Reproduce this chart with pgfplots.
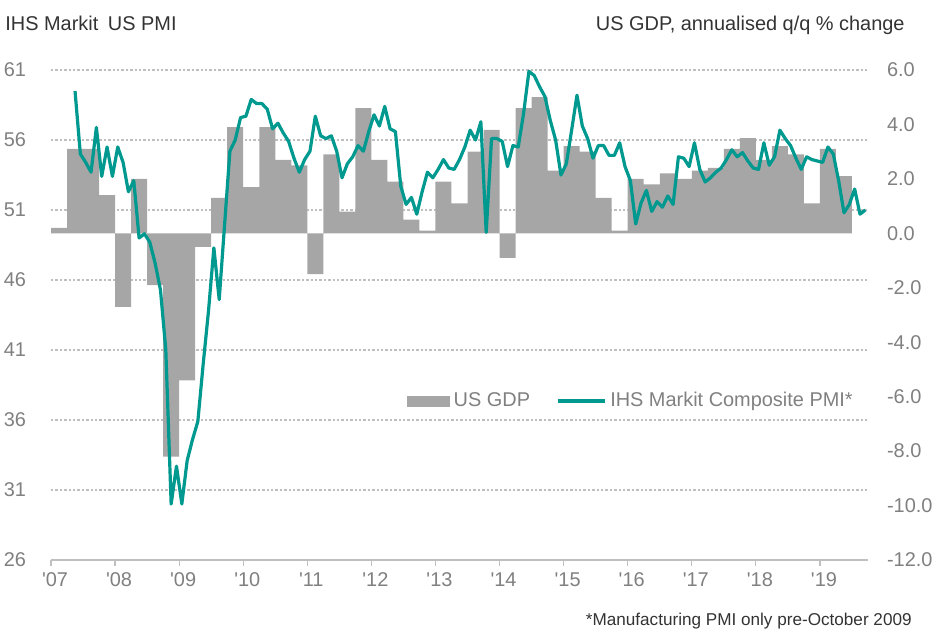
\documentclass[border=0pt]{standalone}
\usepackage{fontspec}
\setmainfont{Liberation Sans}
\usepackage{pgfplots}
\usepackage{pgfplotstable}
\pgfplotsset{compat=1.18}
\definecolor{teal1}{RGB}{0,153,143}
\definecolor{gdpgray}{RGB}{166,166,166}
\definecolor{gridgray}{RGB}{191,191,191}
\definecolor{labgray}{RGB}{128,128,128}
\definecolor{titlegray}{RGB}{51,51,51}

\pgfplotstableread{
x y
0 0.2
3 3.1
6 3.1
9 1.4
12 -2.7
15 2.0
18 -1.9
21 -8.2
24 -5.4
27 -0.5
30 1.3
33 3.9
36 1.7
39 3.9
42 2.7
45 2.5
48 -1.5
51 2.9
54 0.8
57 4.6
60 2.7
63 1.9
66 0.5
69 0.1
72 1.9
75 1.1
78 3.0
81 3.8
84 -0.9
87 4.6
90 5.0
93 2.3
96 3.2
99 3.0
102 1.3
105 0.1
108 2.0
111 1.8
114 2.2
117 2.0
120 2.3
123 2.4
126 3.1
129 3.5
132 2.7
135 3.2
138 2.9
141 1.1
144 3.1
147 2.1
150 0
}\gdp

\pgfplotstableread{
x y
4.5 59.5
5.5 55.0
6.5 54.4
7.5 53.7
8.5 56.9
9.5 53.4
10.5 55.5
11.5 53.4
12.5 55.5
13.5 54.4
14.5 52.3
15.5 53.1
16.5 49.0
17.5 49.3
18.5 48.7
19.5 47.2
20.5 45.3
21.5 41.0
22.5 30.0
23.5 32.7
24.5 30.0
25.5 33.1
26.5 34.6
27.5 35.9
28.5 40.0
29.5 43.8
30.5 48.3
31.5 44.6
32.5 49.9
33.5 55.2
34.5 56.0
35.5 57.6
36.5 57.7
37.5 58.9
38.5 58.6
39.5 58.6
40.5 58.2
41.5 56.8
42.5 57.2
43.5 56.5
44.5 55.9
45.5 54.7
46.5 53.7
47.5 54.6
48.5 55.2
49.5 57.7
50.5 56.3
51.5 56.1
52.5 56.3
53.5 55.2
54.5 53.3
55.5 54.3
56.5 54.8
57.5 55.6
58.5 55.2
59.5 56.6
60.5 57.8
61.5 57.0
62.5 58.4
63.5 56.8
64.5 56.6
65.5 52.7
66.5 51.4
67.5 51.9
68.5 50.7
69.5 52.3
70.5 53.7
71.5 53.3
72.5 53.9
73.5 54.6
74.5 54.0
75.5 53.9
76.5 54.6
77.5 55.5
78.5 56.7
79.5 56.0
80.5 57.3
81.5 49.4
82.5 56.1
83.5 56.1
84.5 55.9
85.5 54.1
86.5 55.6
87.5 55.5
88.5 57.9
89.5 60.9
90.5 60.6
91.5 59.8
92.5 59.1
93.5 57.4
94.5 56.0
95.5 53.5
96.5 54.3
97.5 56.7
98.5 59.2
99.5 57.0
100.5 56.1
101.5 54.7
102.5 55.6
103.5 55.6
104.5 54.9
105.5 54.9
106.5 55.8
107.5 54.1
108.5 53.1
109.5 50.0
110.5 51.5
111.5 52.4
112.5 50.9
113.5 51.6
114.5 51.2
115.5 52.0
116.5 51.4
117.5 54.8
118.5 54.7
119.5 54.1
120.5 55.8
121.5 53.9
122.5 53.0
123.5 53.3
124.5 53.7
125.5 54.0
126.5 54.6
127.5 55.3
128.5 54.8
129.5 55.1
130.5 54.5
131.5 54.0
132.5 53.9
133.5 55.8
134.5 54.2
135.5 54.8
136.5 56.7
137.5 56.1
138.5 55.6
139.5 54.7
140.5 53.9
141.5 54.8
142.5 54.6
143.5 54.5
144.5 54.4
145.5 55.5
146.5 55.0
147.5 53.1
148.5 50.8
149.5 51.4
150.5 52.5
151.5 50.7
152.5 51.0
}\pmi

\begin{document}
\begin{tikzpicture}
\path[use as bounding box] (-25.5bp,-37.5bp) rectangle (445bp,280bp);
\pgfplotsset{
  base/.style={
    width=408.5bp, height=245bp, scale only axis,
    xmin=0, xmax=153,
    at={(0,0)}, anchor=south west,
    tick label style={font=\fontsize{10}{12}\selectfont, text=labgray},
    /pgf/number format/assume math mode=true,
  }
}
% background axis: grid, x axis, left ticks
\begin{axis}[base,
  ymin=26, ymax=61,
  ytick={26,31,36,41,46,51,56,61},
  ymajorgrids,
  grid style={gridgray, line width=0.6bp, dash pattern=on 1.2bp off 1bp},
  axis x line*=bottom, axis y line*=left,
  x axis line style={gridgray, line width=0.8bp},
  y axis line style={draw=none},
  ytick style={draw=none},
  xtick={0,12,24,36,48,60,72,84,96,108,120,132,144},
  xticklabels={\textquotesingle 07,\textquotesingle 08,\textquotesingle 09,\textquotesingle 10,\textquotesingle 11,\textquotesingle 12,\textquotesingle 13,\textquotesingle 14,\textquotesingle 15,\textquotesingle 16,\textquotesingle 17,\textquotesingle 18,\textquotesingle 19},
  xtick style={gridgray, line width=0.6bp},
  tick align=outside, major tick length=3bp,
  yticklabel style={xshift=-6bp},
  xticklabel style={xshift=2bp},
]
\addplot[draw=none] coordinates {(0,50)};
\end{axis}
% GDP axis (right)
\begin{axis}[base,
  ymin=-12, ymax=6,
  ytick={-12,-10,-8,-6,-4,-2,0,2,4,6},
  axis y line*=right, axis x line=none,
  y axis line style={draw=none},
  ytick style={draw=none},
  yticklabel style={xshift=6bp, /pgf/number format/.cd, fixed, fixed zerofill, precision=1},
]
\addplot[ybar interval, fill=gdpgray, draw=none] table[x=x, y=y] {\gdp};
\end{axis}
% PMI line axis
\begin{axis}[base,
  ymin=26, ymax=61,
  hide axis, clip=false,
  legend columns=2,
  legend style={draw=none, fill=none, at={(0.994,0.3245)}, anchor=east,
    font=\fontsize{10}{12}\selectfont, text=labgray,
    /tikz/every even column/.append style={column sep=11bp},
    legend cell align=left},
]
\addlegendimage{legend image code/.code={\fill[gdpgray] (0bp,-2.5bp) rectangle (21bp,2.5bp);}}
\addlegendentry{US GDP}
\addplot[teal1, line width=1.6bp, line join=round,
  legend image code/.code={\draw[teal1, line width=1.6bp] (0bp,0bp) -- (23.5bp,0bp);}]
  table[x=x, y=y] {\pmi};
\addlegendentry{IHS Markit Composite PMI*}
\node[anchor=base west, inner sep=0pt, text=titlegray, font=\fontsize{10}{12}\selectfont]
  at (axis description cs:-0.0563,1.0816) {IHS Markit\hspace{2bp} US PMI};
\node[anchor=base east, inner sep=0pt, text=titlegray, font=\fontsize{10}{12}\selectfont]
  at (axis description cs:1.0453,1.0816) {US GDP, annualised q/q \% change};
\node[anchor=base east, inner sep=0pt, text=titlegray, font=\fontsize{8.6}{10}\selectfont]
  at (axis description cs:1.0539,-0.1327) {*Manufacturing PMI only pre-October 2009};
\end{axis}
\end{tikzpicture}
\end{document}
